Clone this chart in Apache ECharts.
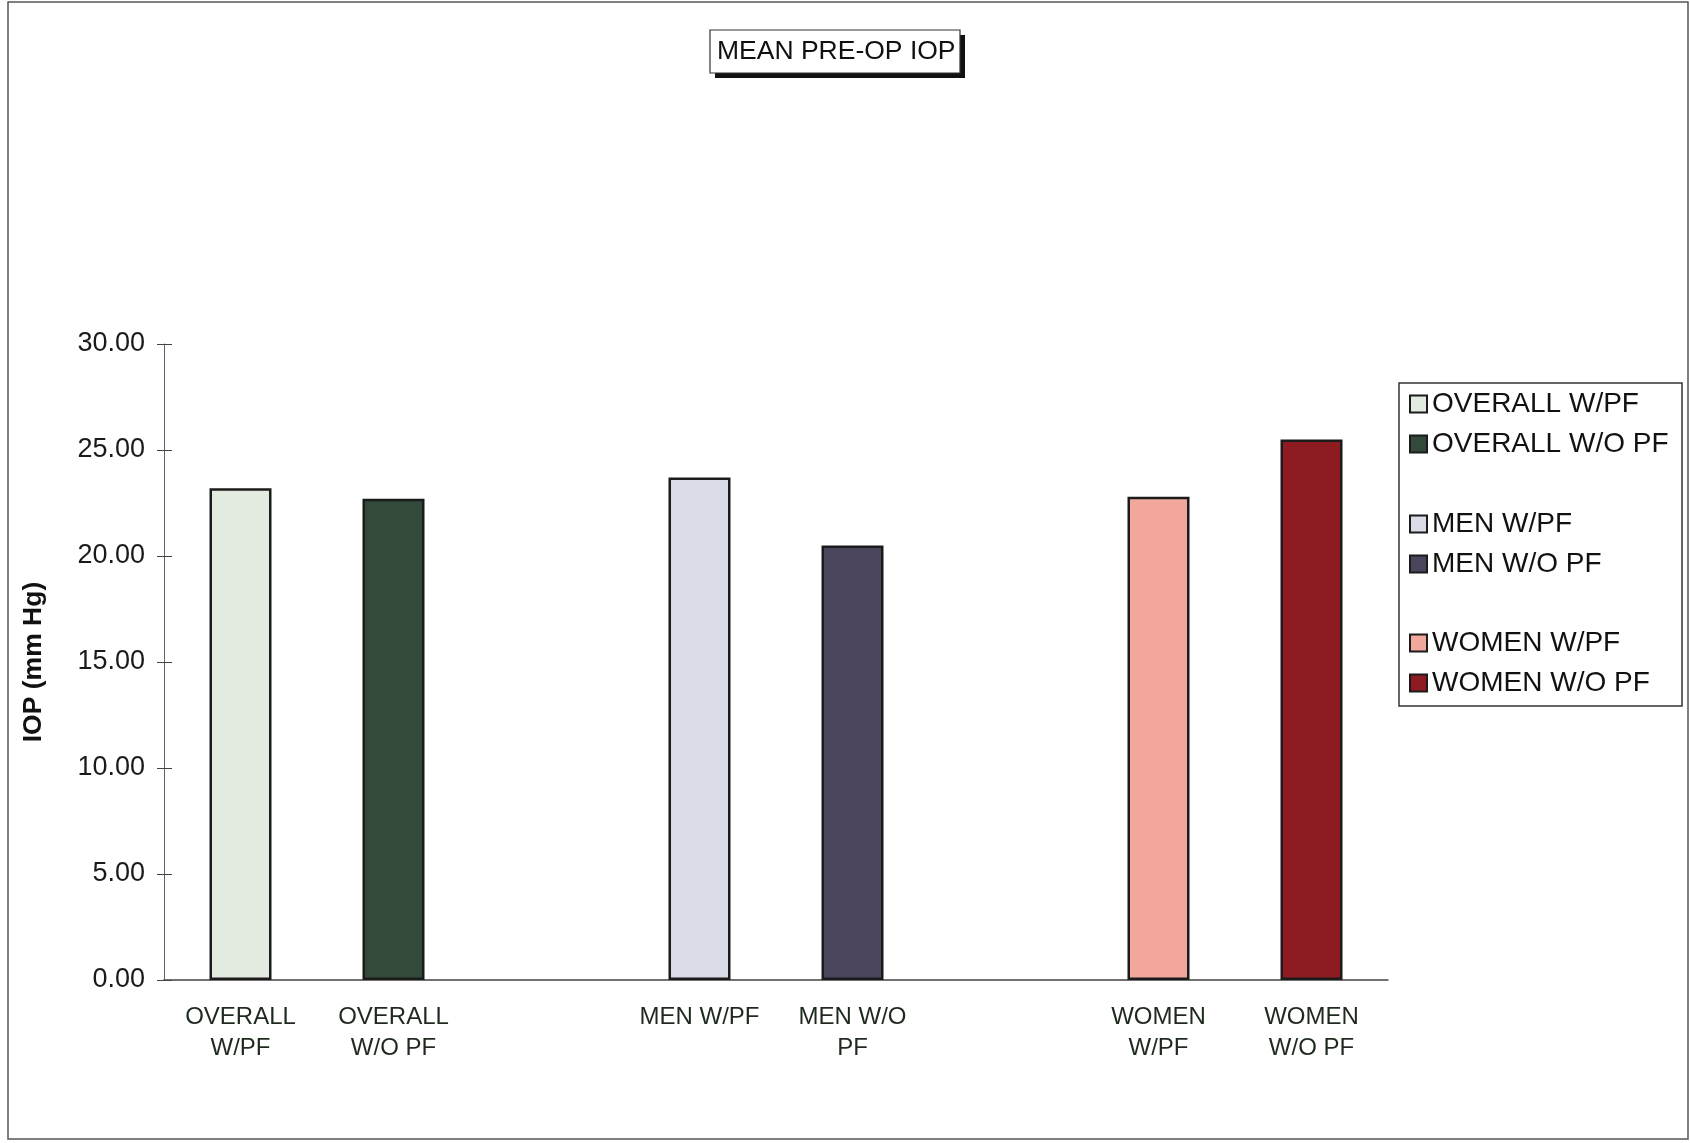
<!DOCTYPE html>
<html>
<head>
<meta charset="utf-8">
<script src="https://cdn.jsdelivr.net/npm/echarts@6/dist/echarts.min.js"></script>
<style>
  html, body { margin: 0; padding: 0; background: #fff; }
  #chart { width: 1690px; height: 1143px; }
</style>
</head>
<body>
<div id="chart"></div>
<script>
// x slots: two blank slots split the three groups
const categories = ['OVERALL\nW/PF', 'OVERALL\nW/O PF', '', 'MEN W/PF', 'MEN W/O\nPF', '', 'WOMEN\nW/PF', 'WOMEN\nW/O PF']
const seriesNames = ['OVERALL W/PF', 'OVERALL W/O PF', 'MEN W/PF', 'MEN W/O PF', 'WOMEN W/PF', 'WOMEN W/O PF']
const seriesSlots = [0, 1, 3, 4, 6, 7]
const meanIop = [23.2, 22.7, 23.7, 20.5, 22.8, 25.5]
const yTicks = [0, 5, 10, 15, 20, 25, 30]

const colors = ['#e3eadf', '#33493a', '#d9dbe6', '#4b465e', '#f1a79c', '#8e1b22']
const font = '"Liberation Sans", Arial, sans-serif'

const chart = echarts.init(document.getElementById('chart'))

const series = seriesNames.map((name, i) => {
  const data = categories.map(() => '-')
  data[seriesSlots[i]] = meanIop[i]
  return {
    name: name,
    type: 'bar',
    data: data,
    barWidth: 62,
    barGap: '-100%',
    itemStyle: {
      color: colors[i],
      borderColor: '#1b1b1b',
      borderWidth: 2.5,
    },
  }
})

const legendBlock = (names, top) => ({
  orient: 'vertical',
  left: 1409,
  top: top,
  padding: 0,
  itemWidth: 17,
  itemHeight: 17,
  itemGap: 12,
  icon: 'rect',
  data: names,
  selectedMode: false,
  textStyle: {
    fontFamily: font,
    fontSize: 28,
    lineHeight: 27,
    color: '#111',
  },
})

const option = {
  backgroundColor: '#fff',
  animation: false,
  title: {
    text: 'MEAN PRE-OP IOP',
    left: 717,
    top: 38,
    padding: 0,
    textStyle: {
      fontFamily: font,
      fontSize: 26.5,
      fontWeight: 'normal',
      color: '#111',
    },
  },
  legend: [
    legendBlock(seriesNames.slice(0, 2), 390),
    legendBlock(seriesNames.slice(2, 4), 510),
    legendBlock(seriesNames.slice(4, 6), 629),
  ],
  grid: {
    left: 164,
    right: 302,
    top: 344,
    bottom: 163,
  },
  xAxis: {
    type: 'category',
    data: categories,
    axisLine: {
      lineStyle: { color: '#444', width: 1.5 },
    },
    axisTick: { show: false },
    axisLabel: {
      interval: 0,
      margin: 22,
      fontFamily: font,
      fontSize: 24,
      lineHeight: 31,
      color: '#1f2a1f',
    },
  },
  yAxis: [
    {
      type: 'value',
      min: yTicks[0],
      max: yTicks[yTicks.length - 1],
      interval: yTicks[1] - yTicks[0],
      name: 'IOP (mm Hg)',
      nameLocation: 'middle',
      nameGap: 117,
      nameTextStyle: {
        fontFamily: font,
        fontSize: 26.5,
        fontWeight: 'bold',
        color: '#111',
      },
      axisLine: {
        show: true,
        lineStyle: { color: '#6a5a7a', width: 1 },
      },
      axisTick: {
        show: true,
        length: 7,
        lineStyle: { color: '#444' },
      },
      axisLabel: {
        margin: 19,
        fontFamily: font,
        fontSize: 27,
        color: '#1a1a1a',
        formatter: (v) => v.toFixed(2),
      },
      splitLine: { show: false },
    },
    {
      // inner half of the crossing ticks
      type: 'value',
      position: 'left',
      min: yTicks[0],
      max: yTicks[yTicks.length - 1],
      interval: yTicks[1] - yTicks[0],
      axisLine: { show: false },
      axisTick: {
        show: true,
        inside: true,
        length: 8,
        lineStyle: { color: '#444' },
      },
      axisLabel: { show: false },
      splitLine: { show: false },
    },
  ],
  graphic: [
    // title box with drop shadow
    {
      type: 'rect',
      shape: { x: 715, y: 35, width: 250, height: 43 },
      style: { fill: '#111' },
      z: 0,
    },
    {
      type: 'rect',
      shape: { x: 710, y: 30, width: 250, height: 43 },
      style: { fill: '#fff', stroke: '#333', lineWidth: 1.2 },
      z: 1,
    },
    {
      type: 'rect',
      shape: { x: 1399, y: 383, width: 283, height: 323 },
      style: { fill: 'none', stroke: '#333', lineWidth: 1.5 },
      z: 0,
    },
    {
      type: 'rect',
      shape: { x: 8, y: 2, width: 1680, height: 1137 },
      style: { fill: 'none', stroke: '#555', lineWidth: 1.5 },
      z: 0,
    },
  ],
  series: series,
}

chart.setOption(option)
</script>
</body>
</html>
